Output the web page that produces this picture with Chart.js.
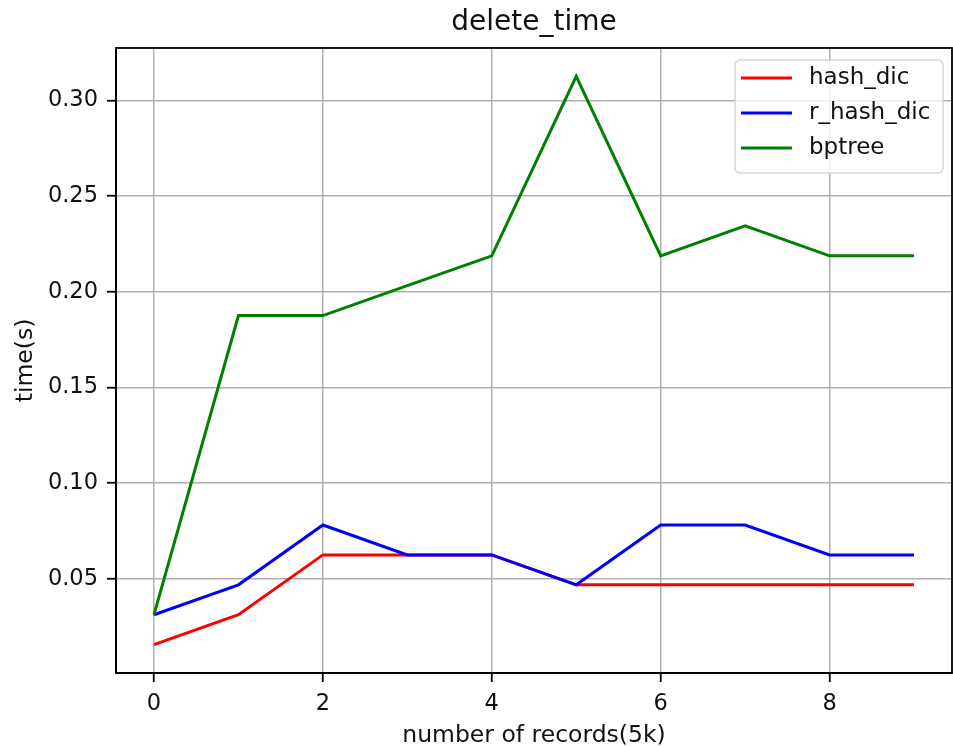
<!DOCTYPE html>
<html>
<head>
<meta charset="utf-8">
<script src="https://cdn.jsdelivr.net/npm/chart.js@4"></script>
<style>
  body { margin: 0; background: #fff; }
</style>
</head>
<body>
<canvas id="myChart" width="953" height="746"></canvas>
<script>
var xValues = [0, 1, 2, 3, 4, 5, 6, 7, 8, 9];
var hashDic = [0.015625, 0.03125, 0.0625, 0.0625, 0.0625, 0.046875, 0.046875, 0.046875, 0.046875, 0.046875];
var rHashDic = [0.03125, 0.046875, 0.078125, 0.0625, 0.0625, 0.046875, 0.078125, 0.078125, 0.0625, 0.0625];
var bptree = [0.03125, 0.1875, 0.1875, 0.203125, 0.21875, 0.3125, 0.21875, 0.234375, 0.21875, 0.21875];
var seriesNames = ["hash_dic", "r_hash_dic", "bptree"];
var seriesColors = ["#ff0000", "#0000ff", "#008000"];
var xTicks = [0, 2, 4, 6, 8];
var yTicks = [0.05, 0.10, 0.15, 0.20, 0.25, 0.30];
var chartTitle = "delete_time";

var FONT = "'DejaVu Sans', sans-serif";

function points(ys) {
  return xValues.map(function (x, i) { return { x: x, y: ys[i] }; });
}

// title centred over the plot area, four spines and the legend box, like matplotlib
var framePlugin = {
  id: "frame",
  afterDraw: function (chart) {
    var ctx = chart.ctx;
    var a = chart.chartArea;
    ctx.save();

    ctx.font = "28px " + FONT;
    ctx.fillStyle = "#111";
    ctx.textAlign = "center";
    ctx.textBaseline = "middle";
    ctx.fillText(chartTitle, (a.left + a.right) / 2, 23);

    ctx.strokeStyle = "#000";
    ctx.lineWidth = 1.8;
    ctx.strokeRect(a.left, a.top, a.right - a.left, a.bottom - a.top);

    // legend
    var w = 208, h = 113;
    var lx = a.right - 9 - w, ly = a.top + 12;
    ctx.beginPath();
    ctx.roundRect(lx, ly, w, h, 5);
    ctx.fillStyle = "rgba(255,255,255,0.8)";
    ctx.fill();
    ctx.strokeStyle = "rgba(204,204,204,0.8)";
    ctx.lineWidth = 1.5;
    ctx.stroke();

    ctx.font = "23px " + FONT;
    ctx.textBaseline = "middle";
    ctx.textAlign = "left";
    chart.data.datasets.forEach(function (ds, i) {
      var cy = ly + 18 + i * 35;
      ctx.beginPath();
      ctx.moveTo(lx + 6, cy);
      ctx.lineTo(lx + 57, cy);
      ctx.strokeStyle = ds.borderColor;
      ctx.lineWidth = 3;
      ctx.stroke();
      ctx.fillStyle = "#111";
      ctx.fillText(ds.label, lx + 74, cy);
    });
    ctx.restore();
  }
};

new Chart("myChart", {
  type: "line",
  data: {
    datasets: [
      { label: seriesNames[0], data: points(hashDic), borderColor: seriesColors[0], order: 3 },
      { label: seriesNames[1], data: points(rHashDic), borderColor: seriesColors[1], order: 2 },
      { label: seriesNames[2], data: points(bptree), borderColor: seriesColors[2], order: 1 }
    ]
  },
  options: {
    responsive: false,
    animation: false,
    devicePixelRatio: 1,
    layout: { padding: { left: 0, right: 1, top: 48, bottom: 0 } },
    elements: {
      line: { borderWidth: 3, tension: 0, fill: false },
      point: { radius: 0 }
    },
    plugins: {
      legend: { display: false },
      tooltip: { enabled: false },
      title: { display: false }
    },
    scales: {
      x: {
        type: "linear",
        min: -0.45,
        max: 9.45,
        afterBuildTicks: function (scale) {
          scale.ticks = xTicks.map(function (v) { return { value: v }; });
        },
        afterFit: function (scale) { scale.height = 73; },
        grid: { color: "#b0b0b0", lineWidth: 1.5, tickLength: 9, tickColor: "#000", tickWidth: 1.8 },
        border: { display: true, color: "#000", width: 1.8 },
        ticks: {
          color: "#111",
          padding: 9,
          maxRotation: 0,
          font: { family: FONT, size: 22.5 },
          callback: function (v) { return String(v); }
        },
        title: {
          display: true,
          text: "number of records(5k)",
          color: "#111",
          font: { family: FONT, size: 23.5 },
          padding: { top: 0, bottom: -4 }
        }
      },
      y: {
        type: "linear",
        min: 0.0008,
        max: 0.3273,
        afterBuildTicks: function (scale) {
          scale.ticks = yTicks.map(function (v) { return { value: v }; });
        },
        afterFit: function (scale) { scale.width = 116; },
        grid: { color: "#b0b0b0", lineWidth: 1.5, tickLength: 9, tickColor: "#000", tickWidth: 1.8 },
        border: { display: true, color: "#000", width: 1.8 },
        ticks: {
          color: "#111",
          padding: 9,
          font: { family: FONT, size: 22.5 },
          callback: function (v) { return v.toFixed(2); }
        },
        title: {
          display: true,
          text: "time(s)",
          color: "#111",
          font: { family: FONT, size: 23.5 },
          padding: { top: 12, bottom: 0 }
        }
      }
    }
  },
  plugins: [framePlugin]
});
</script>
</body>
</html>
